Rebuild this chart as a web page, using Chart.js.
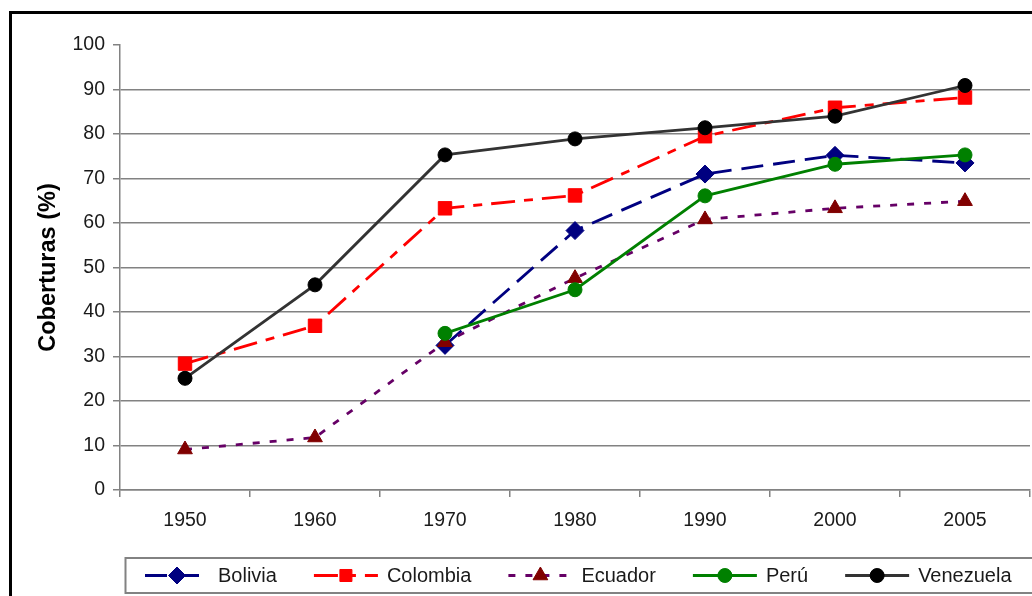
<!DOCTYPE html>
<html>
<head>
<meta charset="utf-8">
<script src="https://cdn.jsdelivr.net/npm/chart.js@4.4.1/dist/chart.umd.min.js"></script>
<style>
  html, body { margin: 0; padding: 0; background: #ffffff; }
  #wrap { width: 1032px; height: 596px; position: relative; }
  canvas { display: block; }
</style>
</head>
<body>
<div id="wrap"><canvas id="chart" width="1032" height="596"></canvas></div>
<script>
// Coverage (%) by country and census year
const years = ['1950', '1960', '1970', '1980', '1990', '2000', '2005'];
const bolivia   = [null, null, 32.5, 58.3, 71.0, 75.2, 73.5];
const colombia  = [28.4, 36.9, 63.3, 66.2, 79.5, 85.9, 88.2];
const ecuador   = [9.1, 11.8, 33.2, 47.6, 60.8, 63.3, 64.9];
const peru      = [null, null, 35.2, 45.0, 66.1, 73.2, 75.3];
const venezuela = [25.1, 46.1, 75.3, 78.9, 81.4, 84.0, 90.9];

const yMin = 0, yMax = 100, yStep = 10;
const yTitle = 'Coberturas (%)';
const seriesNames = ['Bolivia', 'Colombia', 'Ecuador', 'Perú', 'Venezuela'];

const FONT = '"Liberation Sans", Arial, sans-serif';
const GRID = '#828282';

const datasets = [
  { label: seriesNames[0], data: bolivia, borderColor: '#000080', borderDash: [22, 10],
    pointStyle: 'rectRot', pointRadius: 9, pointBackgroundColor: '#000080', pointBorderColor: '#000080', order: 5 },
  { label: seriesNames[1], data: colombia, borderColor: '#ff0000', borderDash: [24, 9, 9, 9],
    pointStyle: 'rect', pointRadius: 9.5, pointBackgroundColor: '#ff0000', pointBorderColor: '#ff0000', order: 4 },
  { label: seriesNames[2], data: ecuador, borderColor: '#660066', borderDash: [7, 10],
    pointStyle: 'triangle', pointRadius: 8.5, pointBackgroundColor: '#800000', pointBorderColor: '#800000', order: 3 },
  { label: seriesNames[3], data: peru, borderColor: '#008000', borderDash: [],
    pointStyle: 'circle', pointRadius: 7, pointBackgroundColor: '#008000', pointBorderColor: '#008000', order: 2 },
  { label: seriesNames[4], data: venezuela, borderColor: '#333333', borderDash: [],
    pointStyle: 'circle', pointRadius: 7, pointBackgroundColor: '#000000', pointBorderColor: '#000000', order: 1 }
].map(d => Object.assign({
  borderWidth: 2.8,
  borderCapStyle: 'butt',
  tension: 0,
  spanGaps: false,
  pointBorderWidth: 1,
  pointHoverRadius: 7
}, d));

// White page and the heavy outer frame
const framePlugin = {
  id: 'frame',
  beforeDraw(chart) {
    const ctx = chart.ctx;
    ctx.save();
    ctx.fillStyle = '#ffffff';
    ctx.fillRect(0, 0, chart.width, chart.height);
    ctx.restore();
  },
  afterDraw(chart) {
    const ctx = chart.ctx;
    ctx.save();
    ctx.strokeStyle = '#000000';
    ctx.lineWidth = 3;
    ctx.beginPath();
    ctx.moveTo(10.5, chart.height + 5);
    ctx.lineTo(10.5, 12.5);
    ctx.lineTo(chart.width + 5, 12.5);
    ctx.stroke();
    ctx.restore();
  }
};

// Boxed legend with line sample + marker for each series
const legendPlugin = {
  id: 'boxLegend',
  afterDraw(chart) {
    const ctx = chart.ctx;
    const boxTop = 558, boxH = 35, boxLeft = 125.5;
    const cy = boxTop + boxH / 2;
    ctx.save();
    ctx.strokeStyle = GRID;
    ctx.lineWidth = 2;
    ctx.strokeRect(boxLeft, boxTop, chart.width + 20, boxH);
    ctx.font = '20px ' + FONT;
    ctx.textBaseline = 'middle';
    ctx.textAlign = 'left';
    let x = 145;
    chart.data.datasets.forEach(ds => {
      ctx.save();
      ctx.strokeStyle = ds.borderColor;
      ctx.lineWidth = 3;
      ctx.lineCap = 'butt';
      ctx.setLineDash(ds.borderDash || []);
      ctx.beginPath();
      ctx.moveTo(x, cy);
      ctx.lineTo(x + 64, cy);
      ctx.stroke();
      ctx.restore();
      ctx.save();
      ctx.fillStyle = ds.pointBackgroundColor;
      ctx.strokeStyle = ds.pointBorderColor;
      ctx.lineWidth = 1;
      Chart.helpers.drawPoint(ctx, {
        pointStyle: ds.pointStyle, radius: Math.min(ds.pointRadius, 8.5), rotation: 0, borderWidth: 1
      }, x + 32, cy);
      ctx.restore();
      ctx.fillStyle = '#1a1a1a';
      ctx.fillText(ds.label, x + 73, cy + 1);
      x += 73 + ctx.measureText(ds.label).width + 37;
    });
    ctx.restore();
  }
};

new Chart(document.getElementById('chart'), {
  type: 'line',
  data: { labels: years, datasets },
  plugins: [framePlugin, legendPlugin],
  options: {
    responsive: false,
    animation: false,
    devicePixelRatio: 1,
    layout: { autoPadding: false, padding: { left: 0, right: 2, top: 45, bottom: 56 } },
    plugins: {
      legend: { display: false },
      tooltip: { enabled: false },
      title: { display: false }
    },
    scales: {
      x: {
        offset: true,
        grid: { offset: true, drawOnChartArea: false, drawTicks: true, tickLength: 7, tickColor: GRID, lineWidth: 1.5 },
        border: { display: true, color: GRID, width: 1.5 },
        ticks: { color: '#1a1a1a', font: { family: FONT, size: 19.5 }, padding: 12, maxRotation: 0, autoSkip: false },
        afterFit(scale) {
          scale.height = 50;
          scale.paddingLeft = 0;
          scale.paddingRight = 0;
        }
      },
      y: {
        min: yMin, max: yMax,
        ticks: { stepSize: yStep, color: '#1a1a1a', font: { family: FONT, size: 19.5 }, padding: 8 },
        grid: {
          color: c => (c.tick && c.tick.value === yMax) ? 'rgba(0,0,0,0)' : GRID,
          tickColor: GRID, tickLength: 7, lineWidth: 1.5
        },
        border: { display: true, color: GRID, width: 1.5 },
        title: {
          display: true, text: yTitle, color: '#000000',
          font: { family: FONT, size: 23.5, weight: 'bold' },
          padding: { top: 34, bottom: 0 }
        },
        afterFit(scale) { scale.width = 120; }
      }
    }
  }
});
</script>
</body>
</html>
